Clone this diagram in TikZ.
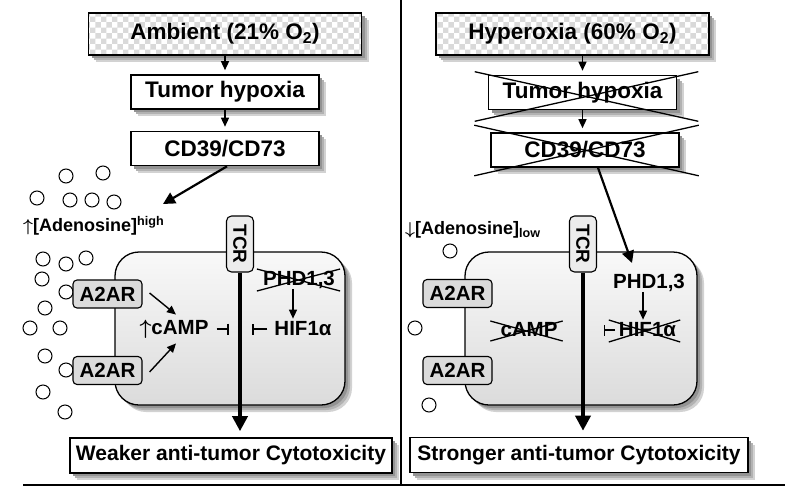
\documentclass[tikz,border=0pt]{standalone}
\usepackage{fontspec}
\setmainfont{Liberation Sans}
\usetikzlibrary{arrows.meta}
\usetikzlibrary{patterns}
\usetikzlibrary{shadows}

\newcommand\fsz[1]{\fontsize{#1}{#1}\selectfont\bfseries}
\newcommand\upar{{\boldmath$\uparrow$}}
\newcommand\downar{{\boldmath$\downarrow$}}

\begin{document}
\begin{tikzpicture}[x=1pt,y=-1pt,
    shad/.style={general shadow={fill=gray!35,shadow xshift=7pt,shadow yshift=-7pt},
                 general shadow={fill=gray!60,shadow xshift=5pt,shadow yshift=-5pt},
                 general shadow={fill=gray!85,shadow xshift=3pt,shadow yshift=-3pt}},
    topbox/.style={shad,preaction={fill=white},pattern=checkerboard,pattern color=gray!30,
                   draw,line width=1.6pt,minimum width=273pt,minimum height=42pt,inner sep=0pt,font=\fsz{22.5}},
    stepbox/.style={draw,line width=1.6pt,fill=white,shad,minimum width=188pt,minimum height=34pt,
                    inner sep=0pt,font=\fsz{22.5}},
    outbox/.style={draw,line width=1.6pt,fill=white,shad,minimum height=35pt,inner sep=0pt,font=\fsz{21}},
    cellbox/.style={draw,line width=1.3pt,rounded corners=24pt,top color=gray!5,bottom color=gray!28,shad,
                    minimum height=153pt},
    rcpt/.style={draw,line width=1.1pt,rounded corners=4pt,fill=gray!28,minimum width=69pt,
                 minimum height=28pt,inner sep=0pt,font=\fsz{20.5}},
    tcrbox/.style={draw,line width=1.1pt,rounded corners=5pt,fill=gray!15,rotate=-90,minimum width=56pt,
                   minimum height=27pt,inner sep=0pt,font=\fsz{19}},
    lbl/.style={inner sep=0pt,font=\fsz{20.5}},
    adeno/.style={circle,draw,line width=1pt,fill=white,minimum size=14pt,inner sep=0pt},
    arr/.style={-{Triangle[width=8pt,length=9pt]},line width=1.4pt},
    bigarr/.style={-{Triangle[width=12pt,length=12pt]},line width=2.2pt},
    tcrarr/.style={-{Triangle[width=15pt,length=15pt]},line width=3.6pt},
    inh/.style={-{Bar[width=11pt]},line width=1.6pt},
    xline/.style={line width=1.3pt}]

    \useasboundingbox (0,0) rectangle (800,498);

    % frame lines
    \draw[line width=1.8pt] (401,0) -- (401,485);
    \draw[line width=1.8pt] (23,485) -- (785,485);

    % ambient side
    \node[topbox] (amb) at (225,34) {Ambient (21\% O\textsubscript{2})};
    \node[stepbox] (th1) at (225,92) {Tumor hypoxia};
    \node[stepbox] (cd1) at (225,148.5) {CD39/CD73};
    \draw[arr,shorten >=4pt] (amb) -- (th1);
    \draw[arr,shorten >=4pt] (th1) -- (cd1);
    \coordinate (adtip) at (163,204);
    \draw[bigarr] ([xshift=2pt]cd1.south) -- (adtip);

    \foreach \x/\y [count=\i] in {66/176,103/173,37/198,70/200,92/200,114/202,
        43/259,66/264,86/258,42/279,66/292,45/308,30/328,60/328,45/356,66/370,43/392,65/412}
        \node[adeno] (adl\i) at (\x,\y) {};
    \node[anchor=west,inner sep=0pt,font=\fsz{18}] (adenl) at (23,226) {\upar[Adenosine]\textsuperscript{high}};

    \node[cellbox,minimum width=230pt] (cell1) at (230,328.5) {};
    \node[rcpt] (a1) at (107.5,294) {A2AR};
    \node[rcpt] (a2) at (107.5,370.5) {A2AR};
    \node[tcrbox] (tcr1) at (240,244) {TCR};

    \node[lbl] (camp1) at (174,329) {\upar cAMP};
    \node[lbl] (hif1) at (303,329) {HIF1α};
    \node[lbl] (phd1) at (299,280) {PHD1,3};
    \draw[arr] ([shift={(7,-1)}]a1.east) -- ([shift={(2,-5)}]camp1.north);
    \draw[arr] ([shift={(7,1.5)}]a2.east) -- ([shift={(2,5)}]camp1.south);
    \draw[inh] ([xshift=8pt]camp1.east) -- ++(12,0);
    \draw[inh] ([xshift=-7pt]hif1.west) -- ++(-15,0);
    \draw[arr,shorten >=3pt] ([xshift=-6pt]phd1.south) -- ([xshift=-6pt]phd1.south |- hif1.north);
    \draw[xline] ([shift={(-6,-11)}]phd1.west) -- ([shift={(5,11)}]phd1.east);
    \draw[xline] ([shift={(-6,11)}]phd1.west) -- ([shift={(5,-11)}]phd1.east);

    \node[outbox,minimum width=322pt] (weak) at (231,455.5) {Weaker anti-tumor Cytotoxicity};
    \draw[tcrarr,shorten >=6pt] (tcr1.east) -- (tcr1.east |- weak.north);

    % hyperoxia side
    \node[topbox] (hyp) at (572.5,34) {Hyperoxia (60\% O\textsubscript{2})};
    \node[stepbox] (th2) at (582.5,92.5) {Tumor hypoxia};
    \node[stepbox] (cd2) at (585,150) {CD39/CD73};
    \draw[arr,shorten >=4pt] (th2.north |- hyp.south) -- (th2.north);
    \draw[arr,shorten >=4pt] (th2.south) -- (th2.south |- cd2.north);
    \draw[xline] ([shift={(-13,-3)}]th2.north west) -- ([shift={(21,11)}]th2.south east);
    \draw[xline] ([shift={(-13,11)}]th2.south west) -- ([shift={(21,-3)}]th2.north east);
    \draw[xline] ([shift={(-16,-7)}]cd2.north west) -- ([shift={(19,8)}]cd2.south east);
    \draw[xline] ([shift={(-16,8)}]cd2.south west) -- ([shift={(19,-7)}]cd2.north east);

    \foreach \x/\y [count=\i] in {450/251,415/328,429/405}
        \node[adeno] (adr\i) at (\x,\y) {};
    \node[anchor=west,inner sep=0pt,font=\fsz{18}] (adenr) at (405,230) {\downar[Adenosine]\textsubscript{low}};

    \node[cellbox,minimum width=232pt] (cell2) at (581,328.5) {};
    \node[rcpt] (a3) at (457.5,293.5) {A2AR};
    \node[rcpt] (a4) at (457.5,370.5) {A2AR};
    \node[tcrbox] (tcr2) at (583,244) {TCR};

    \node[lbl] (phd2) at (649,283) {PHD1,3};
    \node[lbl] (camp2) at (529,330) {cAMP};
    \node[lbl] (hif2) at (647.5,330) {HIF1α};
    \coordinate (phdin) at (632,263);
    \draw[bigarr] ([xshift=13pt]cd2.south) -- (phdin);
    \draw[arr,shorten >=3pt] ([xshift=-6pt]phd2.south) -- ([xshift=-6pt]phd2.south |- hif2.north);
    \draw[inh] ([xshift=-4pt]hif2.west) -- ++(-11,0);
    \draw[xline] ([shift={(-10,-9)}]camp2.west) -- ([shift={(5,11)}]camp2.east);
    \draw[xline] ([shift={(-10,11)}]camp2.west) -- ([shift={(5,-9)}]camp2.east);
    \draw[xline] ([shift={(-10,-10)}]hif2.west) -- ([shift={(4,12)}]hif2.east);
    \draw[xline] ([shift={(-10,12)}]hif2.west) -- ([shift={(4,-10)}]hif2.east);

    \node[outbox,minimum width=338pt] (strong) at (579,455) {Stronger anti-tumor Cytotoxicity};
    \draw[tcrarr,shorten >=6pt] (tcr2.east) -- (tcr2.east |- strong.north);
\end{tikzpicture}
\end{document}
